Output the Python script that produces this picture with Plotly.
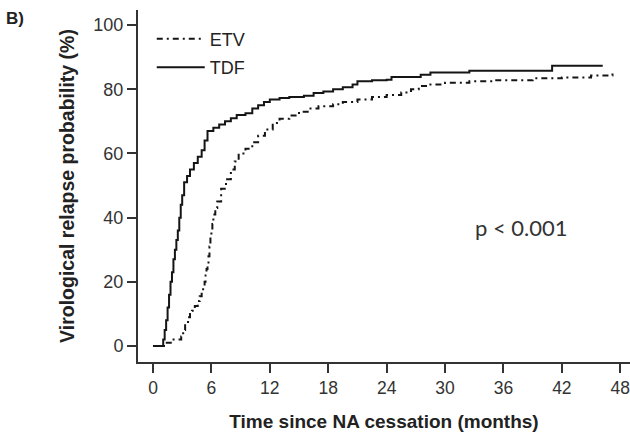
import plotly.graph_objects as go

# Data
tdf_t = [0, 0.9, 1.05, 1.2, 1.35, 1.5, 1.65, 1.8, 1.95, 2.1, 2.25, 2.4, 2.55, 2.7, 2.85, 3.0,
         3.2, 3.5, 3.8, 4.2, 4.6, 5.0, 5.3, 5.6,
         6.2, 6.8, 7.4, 8.0, 8.6, 9.5, 10.2, 10.8, 11.4, 12.0, 13.0, 14.0, 15.5, 16.5, 17.5,
         18.5, 19.5, 20.5, 21.0, 22.5, 24.0, 24.5, 27.5, 28.5, 32.5, 41.0, 46.2]
tdf_p = [0, 0, 2, 5, 8, 12, 16, 20, 23, 27, 30, 33, 36, 40, 44, 47,
         51, 53, 55, 57, 59, 61, 64, 67,
         68, 69, 70, 71, 72, 72.5, 74, 75, 76, 76.8, 77.3, 77.6, 78, 78.8, 79.3,
         80, 80.6, 81.5, 82.5, 82.8, 83, 83.8, 84.5, 85.2, 85.8, 87.3, 87.3]

etv_t = [0, 1.0, 1.3, 2.0, 2.9, 3.1, 3.3, 3.6, 3.8, 4.0, 4.3, 4.6, 4.8, 5.0, 5.15, 5.3, 5.4,
         5.5, 5.6, 5.7, 5.8, 5.9, 6.0, 6.1, 6.2, 6.4, 6.6,
         7.0, 7.5, 8.0, 8.4, 8.8, 9.5, 10.2, 10.8, 11.5, 12.3, 13.0, 14.0, 15.0, 16.0, 17.0,
         18.5, 19.5, 21.0, 22.5, 24.0, 25.5, 26.5, 27.3, 28.5, 30.0, 32.5, 35.0, 39.0, 42.0,
         45.0, 47.2]
etv_p = [0, 0, 1, 2, 3, 5, 7, 9, 10, 11, 12.5, 14, 15.5, 17, 18.5, 20, 22,
         24, 26, 28, 31, 34, 36, 38, 41, 43, 45,
         49, 52, 55, 57.5, 60, 61.5, 63.5, 65.5, 67.5, 69.5, 70.8, 71.8, 73, 74, 74.7,
         75.3, 76, 76.8, 77.6, 78.2, 79, 80, 81, 81.5, 82, 82.5, 82.8, 83.4, 83.7,
         84.3, 85]

x_ticks = [0, 6, 12, 18, 24, 30, 36, 42, 48]
y_ticks = [0, 20, 40, 60, 80, 100]

FONT = "Liberation Sans"

fig = go.Figure()
fig.add_trace(go.Scatter(x=etv_t, y=etv_p, mode="lines", name="ETV", legendgroup="a",
                         line=dict(color="#151515", width=2, dash="6px,4px,2px,4px", shape="hv")))
fig.add_trace(go.Scatter(x=tdf_t, y=tdf_p, mode="lines", name="TDF", legendgroup="b",
                         line=dict(color="#151515", width=2, shape="hv")))

fig.update_layout(
    width=630, height=433,
    margin=dict(l=138, r=0, t=10, b=71),
    paper_bgcolor="white", plot_bgcolor="white",
    font=dict(family=FONT, color="#222"),
    legend=dict(x=0.028, y=0.97, xanchor="left", yanchor="top",
                font=dict(size=18, family=FONT, color="#222"), tracegroupgap=2,
                itemwidth=48, bgcolor="rgba(0,0,0,0)"),
    xaxis=dict(range=[-1.54, 49.0], tickvals=x_ticks, ticktext=[str(v) for v in x_ticks],
               automargin=False, ticklabeloverflow="allow",
               showgrid=False, zeroline=False, showline=True, linecolor="#333", linewidth=2,
               ticks="outside", ticklen=9, tickwidth=2, tickcolor="#333",
               tickfont=dict(size=17.5, family=FONT, color="#333"),
               title=dict(text="<b>Time since NA cessation (months)</b>", standoff=18,
                          font=dict(size=19, family=FONT, color="#222"))),
    yaxis=dict(range=[-4.98, 104.7], tickvals=y_ticks, ticktext=[str(v) for v in y_ticks],
               automargin=False,
               showgrid=False, zeroline=False, showline=True, linecolor="#333", linewidth=2,
               ticks="outside", ticklen=9, tickwidth=2, tickcolor="#333",
               tickfont=dict(size=18, family=FONT, color="#333"),
               title=dict(text="<b>Virological relapse probability (%)</b>", standoff=14,
                          font=dict(size=19.5, family=FONT, color="#222"))),
    annotations=[
        dict(text="<b>B)</b>", xref="paper", yref="paper", x=-0.272, y=0.975,
             xanchor="left", yanchor="middle", showarrow=False,
             font=dict(size=17, family=FONT, color="#222")),
        dict(text="p < 0.001", xref="x", yref="y", x=32.9, y=37,
             xanchor="left", yanchor="middle", showarrow=False,
             font=dict(size=22, family="Lato", color="#333")),
    ],
)

fig.write_html("out.html", config={"displayModeBar": False},
               post_script="document.body.style.margin='0px';document.body.style.overflow='hidden';")
